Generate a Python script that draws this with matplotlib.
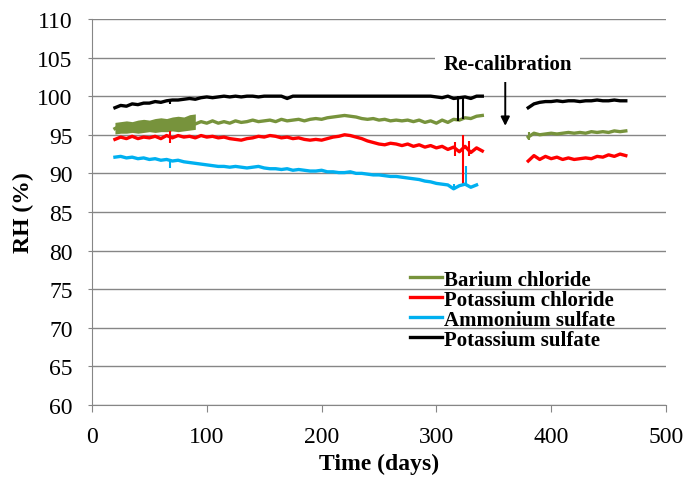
"""RH readings of four saturated salt solutions, before and after re-calibration."""

import matplotlib

matplotlib.use("Agg")
import matplotlib.pyplot as plt
import numpy as np

plt.rcParams["font.family"] = ["Liberation Serif", "DejaVu Serif"]

# days sampled every 5 days, before and after the sensor re-calibration
DAYS_PRE = np.arange(20, 341, 5)
DAYS_POST = np.arange(380, 466, 5)

BARIUM_PRE = [
    95.8, 96.2, 95.9, 96.3, 96.0, 96.4, 96.0, 96.5, 96.1, 96.5,
    96.2, 96.6, 96.3, 96.8, 96.4, 96.7, 96.5, 96.8, 96.5, 96.7,
    96.5, 96.8, 96.6, 96.7, 96.9, 96.7, 96.8, 96.9, 96.7, 97.0,
    96.8, 96.9, 97.0, 96.8, 97.0, 97.1, 97.0, 97.2, 97.3, 97.4,
    97.5, 97.4, 97.3, 97.1, 97.0, 97.1, 96.9, 97.0, 96.8, 96.9,
    96.8, 96.9, 96.7, 96.9, 96.6, 96.8, 96.5, 96.9, 96.6, 97.0,
    96.9, 97.2, 97.1, 97.4, 97.5,
]
# noisy band seen on the barium chloride trace during the first 90 days
BARIUM_BAND_DAYS = np.arange(20, 91, 5)
BARIUM_BAND_LOW = [95.1, 95.2, 95.2, 95.3, 95.2, 95.3, 95.4, 95.3, 95.4, 95.4, 95.5, 95.4, 95.5, 95.6, 95.7]
BARIUM_BAND_HIGH = [96.6, 96.7, 96.8, 96.7, 96.9, 97.0, 96.9, 97.1, 97.2, 97.1, 97.3, 97.4, 97.3, 97.6, 97.7]

POT_CHLORIDE_PRE = [
    94.4, 94.7, 94.5, 94.8, 94.5, 94.7, 94.6, 94.8, 94.5, 94.9,
    94.6, 94.9, 94.7, 94.8, 94.6, 94.9, 94.7, 94.8, 94.6, 94.7,
    94.5, 94.4, 94.3, 94.5, 94.6, 94.8, 94.7, 94.9, 94.8, 94.6,
    94.7, 94.5, 94.6, 94.4, 94.3, 94.4, 94.3, 94.5, 94.7, 94.8,
    95.0, 94.9, 94.7, 94.5, 94.2, 94.0, 93.8, 93.7, 93.9, 93.8,
    93.6, 93.8, 93.5, 93.7, 93.4, 93.6, 93.3, 93.5, 93.1, 93.4,
    92.8, 93.5, 92.7, 93.3, 92.9,
]
AMMONIUM_PRE = [
    92.1, 92.2, 92.0, 92.1, 91.9, 92.0, 91.8, 91.9, 91.7, 91.8,
    91.6, 91.7, 91.5, 91.4, 91.3, 91.2, 91.1, 91.0, 90.9, 90.9,
    90.8, 90.9, 90.8, 90.7, 90.8, 90.9, 90.7, 90.6, 90.6, 90.5,
    90.6, 90.4, 90.5, 90.4, 90.3, 90.3, 90.4, 90.2, 90.2, 90.1,
    90.1, 90.2, 90.0, 90.0, 89.9, 89.8, 89.8, 89.7, 89.6, 89.6,
    89.5, 89.4, 89.3, 89.2, 89.0, 88.9, 88.7, 88.6, 88.5, 88.0,
    88.4, 88.6, 88.2, 88.5, np.nan,
]
POT_SULFATE_PRE = [
    98.5, 98.8, 98.7, 99.0, 98.9, 99.1, 99.1, 99.3, 99.2, 99.4,
    99.5, 99.5, 99.6, 99.7, 99.6, 99.8, 99.9, 99.8, 99.9, 100.0,
    99.9, 100.0, 99.9, 100.0, 100.0, 99.9, 100.0, 100.0, 100.0, 100.0,
    99.7, 100.0, 100.0, 100.0, 100.0, 100.0, 100.0, 100.0, 100.0, 100.0,
    100.0, 100.0, 100.0, 100.0, 100.0, 100.0, 100.0, 100.0, 100.0, 100.0,
    100.0, 100.0, 100.0, 100.0, 100.0, 100.0, 99.9, 99.8, 100.0, 99.7,
    99.8, 99.9, 99.7, 100.0, 100.0,
]

BARIUM_POST = [94.7, 95.2, 95.0, 95.1, 95.2, 95.1, 95.2, 95.3, 95.2,
               95.3, 95.2, 95.4, 95.3, 95.4, 95.3, 95.5, 95.4, 95.5]
POT_CHLORIDE_POST = [91.6, 92.3, 91.8, 92.2, 91.9, 92.1, 91.8, 92.0, 91.8,
                     91.9, 92.0, 91.9, 92.2, 92.1, 92.4, 92.2, 92.5, 92.3]
POT_SULFATE_POST = [98.5, 99.0, 99.2, 99.3, 99.3, 99.4, 99.3, 99.4, 99.4,
                    99.3, 99.4, 99.4, 99.5, 99.4, 99.4, 99.5, 99.4, 99.4]

# short-lived excursions: (day, low, high)
BARIUM_SPIKES = [(381, 94.3, 95.4)]
POT_CHLORIDE_SPIKES = [(68, 93.9, 95.5), (316, 92.3, 94.0), (323, 88.5, 95.0), (328, 92.2, 94.2)]
AMMONIUM_SPIKES = [(68, 90.7, 91.9), (326, 88.3, 91.0), (315, 87.8, 88.6)]
POT_SULFATE_SPIKES = [(319, 96.8, 100.0), (323, 97.0, 100.0), (68, 99.0, 99.5)]

SERIES = [
    ("Barium chloride", "#77933C", BARIUM_PRE, BARIUM_POST, BARIUM_SPIKES),
    ("Potassium chloride", "#FF0000", POT_CHLORIDE_PRE, POT_CHLORIDE_POST, POT_CHLORIDE_SPIKES),
    ("Ammonium sulfate", "#00B0F0", AMMONIUM_PRE, None, AMMONIUM_SPIKES),
    ("Potassium sulfate", "#000000", POT_SULFATE_PRE, POT_SULFATE_POST, POT_SULFATE_SPIKES),
]

GRID_GRAY = "#868686"


def main() -> None:
    fig = plt.figure(figsize=(6.87, 4.81), dpi=100)
    ax = fig.add_axes([0.1339, 0.156, 0.8355, 0.8025])

    ax.fill_between(BARIUM_BAND_DAYS, BARIUM_BAND_LOW, BARIUM_BAND_HIGH,
                    color="#77933C", lw=0, zorder=3)

    handles = []
    for name, color, pre, post, spikes in SERIES:
        (line,) = ax.plot(DAYS_PRE, pre, color=color, lw=2.4, label=name, zorder=3)
        if post is not None:
            ax.plot(DAYS_POST, post, color=color, lw=2.4, zorder=3)
        ax.vlines([s[0] for s in spikes], [s[1] for s in spikes], [s[2] for s in spikes],
                  color=color, lw=1.5, zorder=3)
        handles.append(line)

    ax.set_xlim(0, 500)
    ax.set_ylim(60, 110)
    ax.set_xticks(range(0, 501, 100))
    ax.set_yticks(range(60, 111, 5))
    ax.yaxis.grid(True, color=GRID_GRAY, lw=1.0)
    ax.set_axisbelow(True)
    for side in ("top", "right"):
        ax.spines[side].set_visible(False)
    for side in ("left", "bottom"):
        ax.spines[side].set_color(GRID_GRAY)
    ax.tick_params(axis="both", colors=GRID_GRAY, labelcolor="black", labelsize=17)
    ax.tick_params(axis="x", length=5, pad=10)
    ax.tick_params(axis="y", length=3, pad=11)

    ax.set_xlabel("Time (days)", fontsize=17, fontweight="bold", labelpad=4)
    ax.set_ylabel("RH (%)", fontsize=17, fontweight="bold", labelpad=2)

    ax.annotate("", xy=(360, 95.8), xytext=(360, 102.9),
                arrowprops=dict(arrowstyle="-|>", color="black", lw=1.4, mutation_scale=13))
    ax.text(362, 104.2, "Re-calibration", ha="center", va="center", fontsize=15,
            fontweight="bold", bbox=dict(facecolor="white", edgecolor="none", pad=6))

    ax.legend(handles=handles, loc="upper left", bbox_to_anchor=(0.54, 0.372),
              frameon=False, prop={"weight": "bold", "size": 15},
              handlelength=1.5, handletextpad=0.12, labelspacing=0.0, borderaxespad=0)

    fig.savefig("out.png", dpi=100)
    plt.close(fig)


if __name__ == "__main__":
    main()
